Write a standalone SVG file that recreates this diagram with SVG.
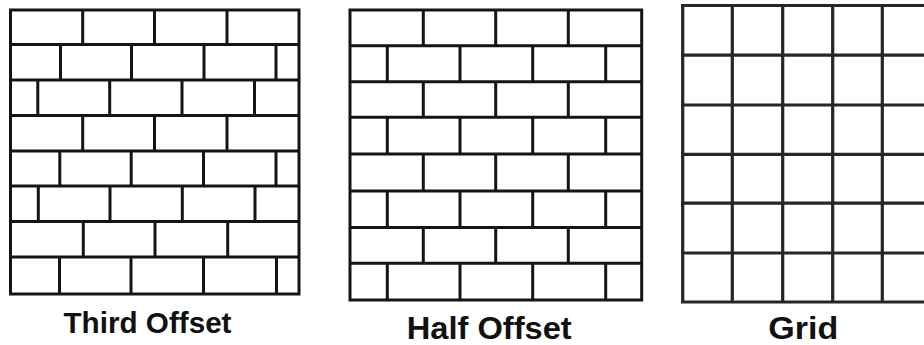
<svg xmlns="http://www.w3.org/2000/svg" width="924" height="345" viewBox="0 0 924 345">
  <style>
    .brick { fill: none; stroke: #141414; stroke-width: 3; }
    .grid { fill: none; stroke: #262626; stroke-width: 3.2; }
    .label { font-family: "Liberation Sans", Arial, sans-serif; font-weight: bold; fill: #111; text-anchor: middle; }
  </style>
  <rect width="924" height="345" fill="#ffffff"/>

  <g id="third-offset">
    <rect class="brick" x="10.5" y="10" width="288.5" height="284"/>
    <path class="brick" d="M10.5 44.5H299 M10.5 80H299 M10.5 115.5H299 M10.5 151H299 M10.5 186H299 M10.5 221.5H299 M10.5 257H299"/>
    <!-- row 1 (A) -->
    <path class="brick" d="M82.7 10V44.5 M154.5 10V44.5 M227 10V44.5"/>
    <!-- row 2 (B) -->
    <path class="brick" d="M60.5 44.5V80 M131.5 44.5V80 M204 44.5V80 M276 44.5V80"/>
    <!-- row 3 (C) -->
    <path class="brick" d="M37.8 80V115.5 M109.7 80V115.5 M182 80V115.5 M254.5 80V115.5"/>
    <!-- row 4 (A) -->
    <path class="brick" d="M82.7 115.5V151 M154.5 115.5V151 M227 115.5V151"/>
    <!-- row 5 (B) -->
    <path class="brick" d="M59.8 151V186 M131.2 151V186 M203.5 151V186 M276 151V186"/>
    <!-- row 6 (C) -->
    <path class="brick" d="M38.3 186V221.5 M110 186V221.5 M182.3 186V221.5 M255 186V221.5"/>
    <!-- row 7 (A) -->
    <path class="brick" d="M83.3 221.5V257 M155 221.5V257 M227.7 221.5V257"/>
    <!-- row 8 (B) -->
    <path class="brick" d="M59.5 257V294 M131 257V294 M203.5 257V294 M276.5 257V294"/>
    <text class="label" x="147.5" y="333.3" font-size="30" textLength="168" lengthAdjust="spacingAndGlyphs">Third Offset</text>
  </g>

  <g id="half-offset">
    <rect class="brick" x="350" y="10" width="291.7" height="290"/>
    <path class="brick" d="M350 45.7H641.7 M350 81.7H641.7 M350 117.3H641.7 M350 154H641.7 M350 191H641.7 M350 227.5H641.7 M350 263.3H641.7"/>
    <!-- rows A -->
    <path class="brick" d="M423.3 10V45.7 M495.7 10V45.7 M568.3 10V45.7"/>
    <path class="brick" d="M423.3 81.7V117.3 M495.7 81.7V117.3 M568.3 81.7V117.3"/>
    <path class="brick" d="M423.3 154V191 M495.7 154V191 M568.3 154V191"/>
    <path class="brick" d="M423.3 227.5V263.3 M495.7 227.5V263.3 M568.3 227.5V263.3"/>
    <!-- rows B -->
    <path class="brick" d="M387.3 45.7V81.7 M460 45.7V81.7 M532.7 45.7V81.7 M605.7 45.7V81.7"/>
    <path class="brick" d="M387.3 117.3V154 M460 117.3V154 M532.7 117.3V154 M605.7 117.3V154"/>
    <path class="brick" d="M387.3 191V227.5 M460 191V227.5 M532.7 191V227.5 M605.7 191V227.5"/>
    <path class="brick" d="M387.3 263.3V300 M460 263.3V300 M532.7 263.3V300 M605.7 263.3V300"/>
    <text class="label" x="489.2" y="339.3" font-size="31" textLength="165" lengthAdjust="spacingAndGlyphs">Half Offset</text>
  </g>

  <g id="grid">
    <path class="grid" d="M682.7 5.5V302 M732.3 5.5V302 M782.7 5.5V302 M832.7 5.5V302 M882.3 5.5V302"/>
    <path class="grid" d="M681 5.5H926 M681 55.2H926 M681 105H926 M681 154.3H926 M681 203.2H926 M681 253H926 M681 302H926"/>
    <text class="label" x="803.3" y="339.3" font-size="32" textLength="70" lengthAdjust="spacingAndGlyphs">Grid</text>
  </g>
</svg>
